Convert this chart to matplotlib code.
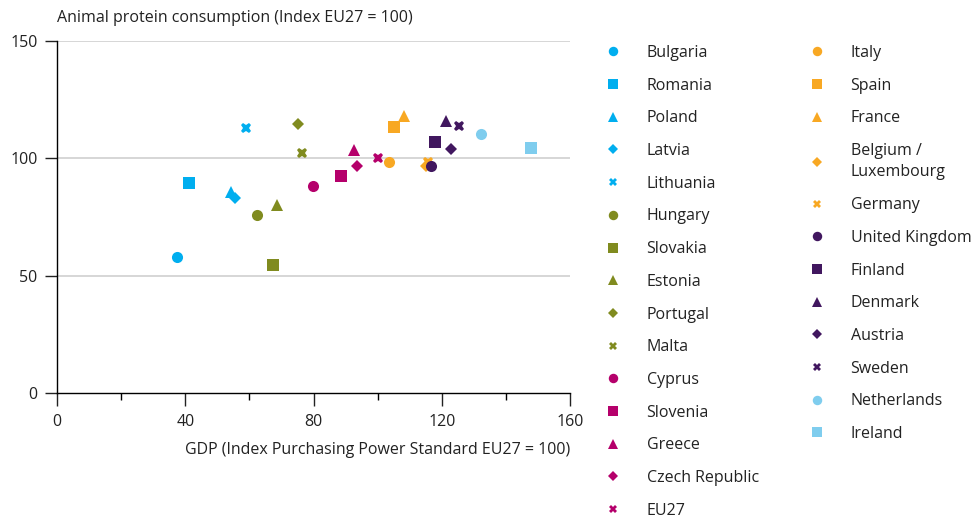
import matplotlib
matplotlib.use("Agg")
import matplotlib.pyplot as plt
from matplotlib.lines import Line2D

plt.rcParams["font.family"] = ["Open Sans", "DejaVu Sans"]

# Country data: GDP index (x), animal protein consumption index (y)
countries = [
    "Bulgaria", "Romania", "Poland", "Latvia", "Lithuania",
    "Hungary", "Slovakia", "Estonia", "Portugal", "Malta",
    "Cyprus", "Slovenia", "Greece", "Czech Republic", "EU27",
    "Italy", "Spain", "France", "Belgium /\nLuxembourg", "Germany",
    "United Kingdom", "Finland", "Denmark", "Austria", "Sweden",
    "Netherlands", "Ireland",
]
gdp = [
    37.4, 41.2, 54.3, 55.5, 59.0,
    62.4, 67.4, 68.6, 75.2, 76.4,
    79.9, 88.6, 92.6, 93.6, 100.0,
    103.6, 105.1, 108.2, 115.1, 115.7,
    116.6, 117.9, 121.3, 122.9, 125.4,
    132.3, 147.8,
]
protein = [
    57.9, 89.5, 85.6, 83.1, 112.9,
    75.8, 54.5, 80.1, 114.6, 102.3,
    88.2, 92.5, 103.5, 96.7, 100.0,
    98.4, 113.3, 118.0, 96.7, 98.4,
    96.7, 106.9, 115.9, 104.0, 113.8,
    110.4, 104.4,
]
group_colors = ["#00aeef", "#808b1f", "#b5006b", "#f8a823", "#41175f", "#7fcdee"]
shape_cycle = ["o", "s", "^", "D", "X"]
marker_size = {"o": 8, "s": 8.5, "^": 8.5, "D": 5.8, "X": 7.5}

colors = [group_colors[i // 5] for i in range(len(countries))]
shapes = [shape_cycle[i % 5] for i in range(len(countries))]

fig = plt.figure(figsize=(9.77, 5.18), dpi=100)
ax = fig.add_axes([57 / 977, 1 - 393 / 518, (570 - 57) / 977, (393 - 41) / 518])

# Grid at 50/100/150
for yv in (50, 100, 150):
    ax.axhline(yv, color="#d6d6d6", lw=1.4, zorder=0)

handles = []
for name, x, y, c, m in zip(countries, gdp, protein, colors, shapes):
    ax.plot(x, y, linestyle="none", marker=m, color=c, markersize=marker_size[m],
            markeredgewidth=0, zorder=3)
    handles.append(Line2D([], [], linestyle="none", marker=m, color=c,
                          markersize=marker_size[m] * 0.85, markeredgewidth=0,
                          label=name))

ax.set_xlim(0, 160)
ax.set_ylim(0, 150)
ax.set_xticks([0, 40, 80, 120, 160])
ax.set_xticks([20, 60, 100, 140], minor=True)
ax.set_yticks([0, 50, 100, 150])
for s in ("top", "right"):
    ax.spines[s].set_visible(False)
for s in ("left", "bottom"):
    ax.spines[s].set_linewidth(1.0)
ax.tick_params(axis="x", which="major", direction="out", length=9, width=1,
               labelsize=11.5, pad=6, colors="#222222")
ax.tick_params(axis="x", which="minor", direction="out", length=5, width=1)
ax.tick_params(axis="y", direction="out", length=9, width=1, labelsize=11.5,
               pad=5, colors="#222222")

fig.text(57 / 977, 1 - 18 / 518, "Animal protein consumption (Index EU27 = 100)",
         ha="left", va="center", fontsize=11.5, color="#222222")
fig.text(570 / 977, 1 - 450 / 518, "GDP (Index Purchasing Power Standard EU27 = 100)",
         ha="right", va="center", fontsize=11.5, color="#222222")

leg_kw = dict(frameon=False, fontsize=11.5, handlelength=1.0, handletextpad=1.6,
              labelspacing=1.045, borderaxespad=0, borderpad=0,
              loc="upper left", labelcolor="#222222")
fig.legend(handles=handles[:15], bbox_to_anchor=(605 / 977, 1 - 45 / 518), **leg_kw)
leg2 = fig.legend(handles=handles[15:], bbox_to_anchor=(809 / 977, 1 - 45 / 518), **leg_kw)
for t in leg2.get_texts():
    t.set_linespacing(1.45)

fig.savefig("out.png", dpi=100)
